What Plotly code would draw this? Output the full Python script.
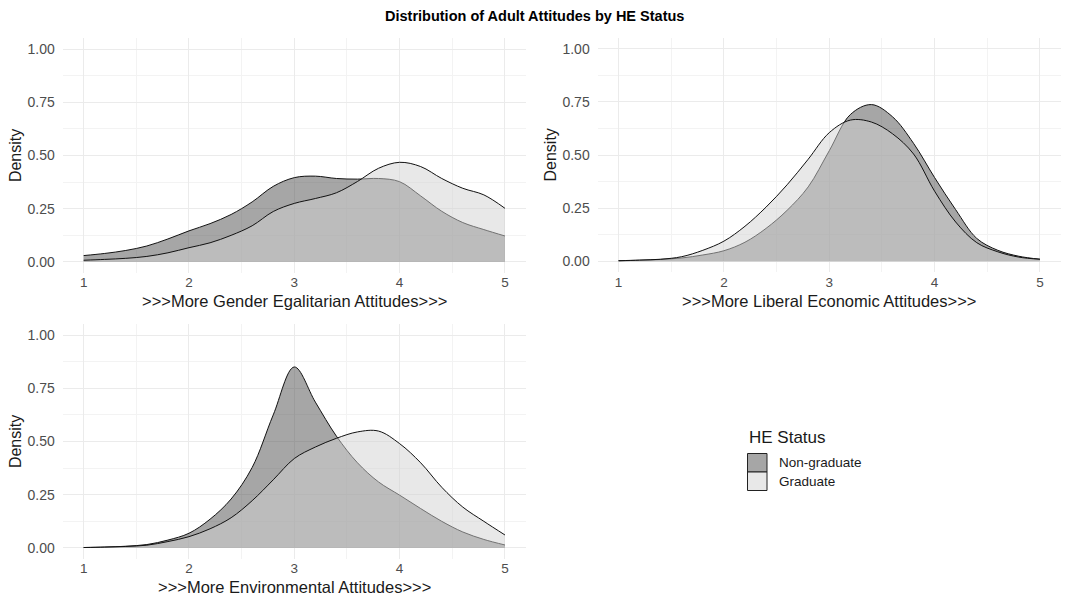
import plotly.graph_objects as go

# ---------------- data ----------------
groups = ["Non-graduate", "Graduate"]
panel_titles = [">>>More Gender Egalitarian Attitudes>>>",
                ">>>More Liberal Economic Attitudes>>>",
                ">>>More Environmental Attitudes>>>"]

# attitude scale positions at which densities were read
grid_x = [1.0, 1.2, 1.4, 1.6, 1.8, 2.0, 2.2, 2.4, 2.6, 2.8, 3.0,
          3.2, 3.4, 3.6, 3.8, 4.0, 4.2, 4.4, 4.6, 4.8, 5.0]

gender_ng = [0.030, 0.040, 0.054, 0.075, 0.108, 0.146, 0.180, 0.223, 0.282, 0.355, 0.396,
             0.403, 0.392, 0.389, 0.392, 0.377, 0.310, 0.238, 0.185, 0.152, 0.122]
gender_gr = [0.008, 0.012, 0.017, 0.026, 0.043, 0.067, 0.090, 0.125, 0.170, 0.237, 0.275,
             0.298, 0.325, 0.378, 0.440, 0.468, 0.448, 0.392, 0.346, 0.315, 0.252]

econ_ng = [0.003, 0.005, 0.009, 0.016, 0.030, 0.050, 0.090, 0.155, 0.240, 0.350, 0.520,
           0.690, 0.737, 0.680, 0.555, 0.394, 0.243, 0.108, 0.052, 0.024, 0.010]
econ_gr = [0.003, 0.006, 0.010, 0.022, 0.052, 0.095, 0.165, 0.255, 0.360, 0.480, 0.605,
           0.664, 0.655, 0.600, 0.505, 0.330, 0.185, 0.088, 0.045, 0.020, 0.010]

env_ng = [0.002, 0.004, 0.008, 0.016, 0.037, 0.069, 0.135, 0.230, 0.378, 0.625, 0.850,
          0.685, 0.525, 0.400, 0.310, 0.248, 0.185, 0.125, 0.075, 0.040, 0.014]
env_gr = [0.002, 0.004, 0.007, 0.013, 0.030, 0.053, 0.090, 0.142, 0.222, 0.320, 0.420,
          0.474, 0.515, 0.545, 0.549, 0.490, 0.400, 0.285, 0.192, 0.125, 0.061]

x_ticks = [1, 2, 3, 4, 5]
y_ticks = [0.0, 0.25, 0.5, 0.75, 1.0]
y_tick_labels = ["0.00", "0.25", "0.50", "0.75", "1.00"]

panels = [(gender_ng, gender_gr), (econ_ng, econ_gr), (env_ng, env_gr)]

# ---------------- styling ----------------
FONT = "Liberation Sans, Arial, sans-serif"
W, H = 1065, 596
fill_ng = "rgba(77,77,77,0.5)"
fill_gr = "rgba(209,209,209,0.5)"
line_col = "#111111"

# pixel boxes of each panel (left, right, top, bottom)
boxes = [(62.6, 526.0, 38.4, 272.6),
         (597.5, 1061.0, 38.0, 272.0),
         (62.6, 526.0, 324.4, 558.6)]

fig = go.Figure()
for i, (yn, yg) in enumerate(panels):
    sfx = "" if i == 0 else str(i + 1)
    for ys, fc, name in [(yn, fill_ng, groups[0]), (yg, fill_gr, groups[1])]:
        fig.add_trace(go.Scatter(
            x=grid_x, y=ys, mode="lines", fill="tozeroy", fillcolor=fc,
            line=dict(color=line_col, width=1, shape="spline", smoothing=1.0),
            name=name, showlegend=False, hoverinfo="skip",
            xaxis="x" + sfx, yaxis="y" + sfx))

layout = dict(
    width=W, height=H,
    margin=dict(l=0, r=0, t=0, b=0),
    paper_bgcolor="white", plot_bgcolor="white",
    font=dict(family=FONT, color="#4d4d4d"),
    showlegend=False,
)

annotations = []
for i, (l, r, t, b) in enumerate(boxes):
    sfx = "" if i == 0 else str(i + 1)
    xd = [l / W, r / W]
    yd = [1 - b / H, 1 - t / H]
    layout["xaxis" + sfx] = dict(
        domain=xd, range=[0.8, 5.2], anchor="y" + sfx,
        tickvals=x_ticks, ticktext=[str(v) for v in x_ticks],
        tickfont=dict(size=13.5, color="#4d4d4d", family=FONT),
        ticks="", showgrid=True, gridcolor="#ebebeb", gridwidth=1.1,
        minor=dict(tickvals=[1.5, 2.5, 3.5, 4.5], showgrid=True, gridcolor="#f3f3f3", gridwidth=0.8),
        zeroline=False, showline=False, fixedrange=True)
    layout["yaxis" + sfx] = dict(
        domain=yd, range=[-0.05, 1.05], anchor="x" + sfx,
        tickvals=y_ticks, ticktext=y_tick_labels,
        tickfont=dict(size=14, color="#4d4d4d", family=FONT),
        ticks="outside", ticklen=4, tickcolor="rgba(0,0,0,0)",
        showgrid=True, gridcolor="#ebebeb", gridwidth=1.1,
        minor=dict(tickvals=[0.125, 0.375, 0.625, 0.875], showgrid=True, gridcolor="#f3f3f3", gridwidth=0.8),
        zeroline=False, showline=False, fixedrange=True)
    # x-axis title
    annotations.append(dict(
        text=panel_titles[i], xref="paper", yref="paper",
        x=(l + r) / 2 / W, y=1 - (b + 28.5) / H, xanchor="center", yanchor="middle",
        showarrow=False, font=dict(size=16.5, color="#1a1a1a", family=FONT)))
    # y-axis title
    annotations.append(dict(
        text="Density", xref="paper", yref="paper",
        x=(l - 47) / W, y=1 - (t + b) / 2 / H, xanchor="center", yanchor="middle",
        textangle=-90, showarrow=False, font=dict(size=16, color="#1a1a1a", family=FONT)))

# main title
annotations.append(dict(
    text="<b>Distribution of Adult Attitudes by HE Status</b>", xref="paper", yref="paper",
    x=534 / W, y=1 - 16 / H, xanchor="center", yanchor="middle", showarrow=False,
    font=dict(size=14.5, color="#000000", family=FONT)))

# legend (drawn by hand to mimic ggplot keys)
annotations.append(dict(
    text="HE Status", xref="paper", yref="paper", x=746.5 / W, y=1 - 437 / H,
    xanchor="left", yanchor="middle", showarrow=False,
    font=dict(size=17, color="#1a1a1a", family=FONT)))
shapes = []
key_fills = ["#a6a6a6", "#e8e8e8"]
for k, (name, fc) in enumerate(zip(groups, key_fills)):
    top = 453.5 + k * 18.5
    shapes.append(dict(type="rect", xref="paper", yref="paper",
                       x0=747.5 / W, x1=767 / W, y0=1 - (top + 18.5) / H, y1=1 - top / H,
                       fillcolor=fc, line=dict(color="#222222", width=1)))
    annotations.append(dict(
        text=name, xref="paper", yref="paper", x=776.5 / W, y=1 - (top + 9.2) / H,
        xanchor="left", yanchor="middle", showarrow=False,
        font=dict(size=13.5, color="#1a1a1a", family=FONT)))

layout["annotations"] = annotations
layout["shapes"] = shapes
fig.update_layout(**layout)
fig.write_html("out.html", config={"displayModeBar": False},
               post_script="document.body.style.margin='0px';")
